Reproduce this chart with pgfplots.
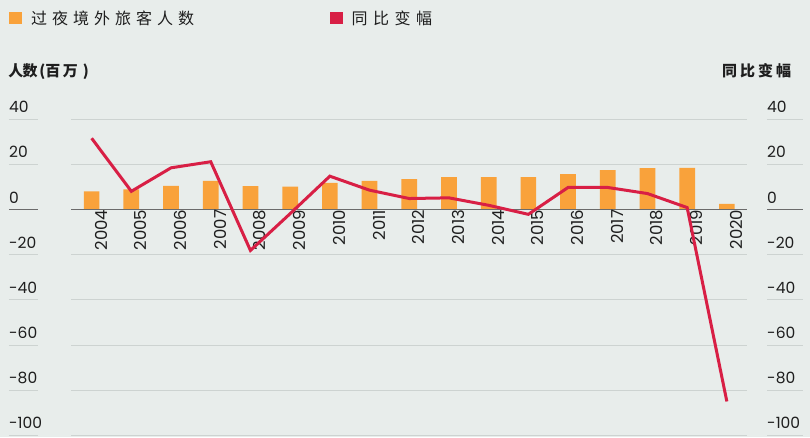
\documentclass[border=0pt]{standalone}
\usepackage{pgfplots}
\pgfplotsset{compat=1.18}
\usepackage{pgfplotstable}
\usepackage{fontspec}
\setmainfont{Poppins}
\newfontfamily\cjk{Noto Sans CJK SC}
\definecolor{bg}{HTML}{E8EDEB}
\definecolor{barc}{HTML}{F9A23B}
\definecolor{linec}{HTML}{D81F45}
\definecolor{gridc}{HTML}{CDD3D1}
\definecolor{zeroc}{HTML}{6B6B6B}
\definecolor{txt}{HTML}{1E1E1E}

\pgfplotstableread{
x bar yoy
0 8.1 31.6
1 8.9 8.1
2 10.5 18.5
3 12.7 21.2
4 10.4 -18.1
5 10.2 -1.8
6 11.8 14.8
7 12.7 8.6
8 13.5 4.9
9 14.4 5.2
10 14.4 1.9
11 14.4 -2.1
12 15.7 9.8
13 17.5 9.8
14 18.4 7.1
15 18.5 0.9
16 2.5 -85
}\data

\newcommand{\ch}[2]{\makebox[#1][l]{#2}}

\begin{document}
\begin{tikzpicture}[x=1pt,y=1pt]
\fill[bg] (0,0) rectangle (810,437);
\useasboundingbox (0,0) rectangle (810,437);

% legend
\fill[barc] (9,412.7) rectangle (21.7,425.3);
\node[anchor=base west, inner sep=0pt, text=txt, font=\cjk\fontsize{16}{16}\selectfont] at (30.9,412.3)
  {\ch{21pt}{过}\ch{21pt}{夜}\ch{21pt}{境}\ch{21pt}{外}\ch{21pt}{旅}\ch{21pt}{客}\ch{21pt}{人}\ch{21pt}{数}};
\fill[linec] (330,412.7) rectangle (342.7,425.3);
\node[anchor=base west, inner sep=0pt, text=txt, font=\cjk\fontsize{16}{16}\selectfont] at (351.5,412.3)
  {\ch{21.5pt}{同}\ch{21.5pt}{比}\ch{21.5pt}{变}\ch{21.5pt}{幅}};

% axis titles
\node[anchor=base west, inner sep=0pt, text=txt, font=\cjk\bfseries\fontsize{15}{15}\selectfont] at (8.3,360.8)
  {\ch{14pt}{人}\ch{17pt}{数}\ch{6pt}{(}\ch{17.5pt}{百}\ch{20pt}{万})};
\node[anchor=base west, inner sep=0pt, text=txt, font=\cjk\bfseries\fontsize{15}{15}\selectfont] at (722,360.8)
  {\ch{18pt}{同}\ch{18pt}{比}\ch{18pt}{变}\ch{18pt}{幅}};

\begin{axis}[
  at={(71pt,1.7pt)}, anchor=south west,
  scale only axis, width=675.7pt, height=316pt,
  xmin=-0.52, xmax=16.5, ymin=-100, ymax=40,
  hide x axis,
  axis y line*=left, y axis line style={draw=none},
  ytick={-100,-80,-60,-40,-20,0,20,40},
  yticklabels={-100,-80,-60,-40,-20,0,20,40},
  major tick length=0pt,
  ymajorgrids, grid style={gridc, line width=1pt},
  yticklabel style={font=\fontsize{15.5}{15.5}\selectfont, text=txt, anchor=south west, inner sep=0pt, xshift=-62pt, yshift=6.3pt},
  ybar, bar width=15.7pt,
  clip=false,
]
\addplot[fill=barc, draw=none] table[x=x, y=bar]{\data};
\pgfplotsinvokeforeach{-100,-80,-60,-40,-20,20,40}{
  \draw[gridc, line width=1pt] ([xshift=-62pt]axis cs:-0.52,#1) -- ([xshift=-33pt]axis cs:-0.52,#1);
  \draw[gridc, line width=1pt] ([xshift=20.3pt]axis cs:16.5,#1) -- ([xshift=56.3pt]axis cs:16.5,#1);
}
\draw[zeroc, line width=1.3pt] ([xshift=-62pt]axis cs:-0.52,0) -- ([xshift=-33pt]axis cs:-0.52,0);
\draw[zeroc, line width=1.3pt] ([xshift=20.3pt]axis cs:16.5,0) -- ([xshift=56.3pt]axis cs:16.5,0);
\end{axis}

\begin{axis}[
  at={(71pt,1.7pt)}, anchor=south west,
  scale only axis, width=675.7pt, height=316pt,
  xmin=-0.52, xmax=16.5, ymin=-100, ymax=40,
  axis x line*=middle, x axis line style={draw=zeroc, line width=1.3pt, -},
  axis y line*=right, y axis line style={draw=none},
  xtick={0,...,16},
  xticklabels={2004,2005,2006,2007,2008,2009,2010,2011,2012,2013,2014,2015,2016,2017,2018,2019,2020},
  ytick={-100,-80,-60,-40,-20,0,20,40},
  yticklabels={-100,-80,-60,-40,-20,0,20,40},
  major tick length=0pt,
  tick label style={text=txt},
  yticklabel style={font=\fontsize{15.5}{15.5}\selectfont, anchor=south west, inner sep=0pt, xshift=20.3pt, yshift=6.3pt},
  xticklabel style={font=\fontsize{16.5}{16.5}\selectfont, rotate=90, anchor=east, inner sep=0pt, yshift=-9.5pt},
  clip=false,
]
\addplot[linec, line width=3pt, no markers] table[x=x, y=yoy]{\data};
\end{axis}
\end{tikzpicture}
\end{document}
